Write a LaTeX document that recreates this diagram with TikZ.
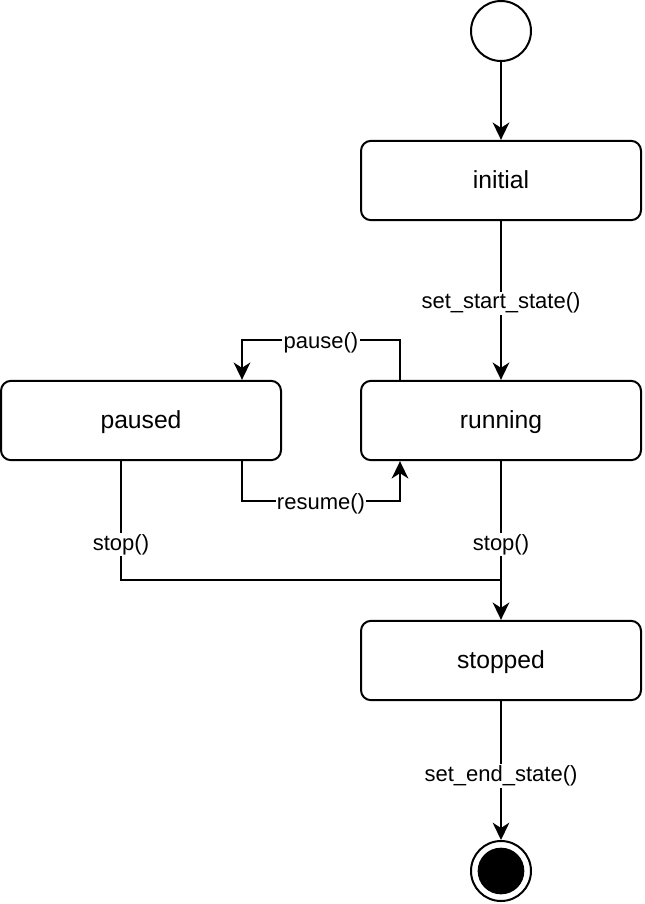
\documentclass[tikz,border=0pt]{standalone}
\usepackage{fontspec}
\setmainfont{Liberation Sans}
\usetikzlibrary{arrows.meta,calc}
\begin{document}
\begin{tikzpicture}[x=0.75pt,y=-0.75pt,
  every node/.style={font=\fontsize{18.5}{22}\selectfont},
  statebox/.style={draw,line width=1.5pt,rounded corners=7.5pt,minimum width=210pt,minimum height=59.5pt,inner sep=0pt,text height=15pt,text depth=3pt},
  conn/.style={line width=1.5pt},
  arr/.style={conn,-{Stealth[length=13pt,width=12.5pt,inset=4pt]}},
  lbl/.style={fill=white,inner sep=1pt,yshift=-2pt,font=\fontsize{16.5}{19}\selectfont}]
\useasboundingbox (0,0) rectangle (644,904);
\node[draw,circle,line width=1.5pt,minimum size=45pt,inner sep=0pt] (start) at (501,31) {};
\node[statebox] (initial) at (501,180.5) {initial};
\node[statebox] (running) at (501,420.5) {running};
\node[statebox] (paused) at (141,420.5) {paused};
\node[statebox] (stopped) at (501,660.5) {stopped};
\node[draw,circle,line width=1.5pt,minimum size=45pt,inner sep=0pt] (end) at (501,871) {};
\node[circle,fill=black,minimum size=35pt,inner sep=0pt] (endin) at (end.center) {};
\coordinate (j) at (501,580);
\draw[arr] (start) -- (initial);
\draw[arr] (initial) -- (running) node[pos=0.5,lbl] {set\_start\_state()};
\draw[arr] ([xshift=30pt]running.north west) -- ++(0,-40) -| ([xshift=-30pt]paused.north east) node[pos=0.25,lbl] {pause()};
\draw[arr] ([xshift=-30pt]paused.south east) -- ++(0,40) -| ([xshift=30pt]running.south west) node[pos=0.25,lbl] {resume()};
\draw[conn] ([xshift=-15pt]paused.south) |- (j) node[pos=0.34,lbl] {stop()};
\draw[arr] (running) -- (stopped) node[pos=0.51,lbl] {stop()};
\draw[arr] (stopped) -- (end) node[pos=0.52,lbl] {set\_end\_state()};
\end{tikzpicture}
\end{document}
